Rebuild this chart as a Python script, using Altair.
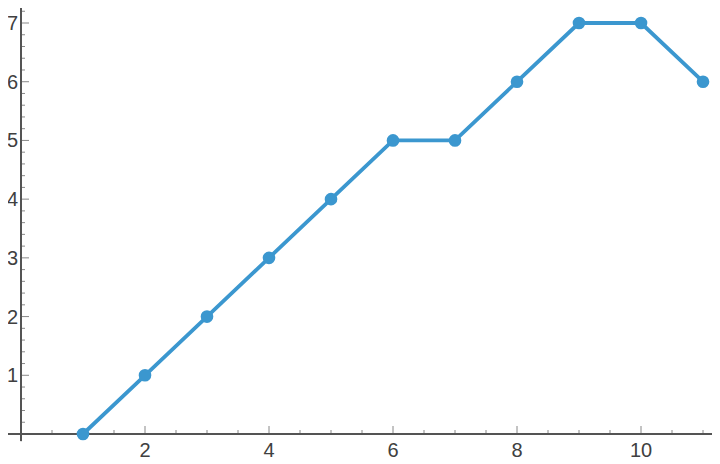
import altair as alt
import pandas as pd

# ---- data ----
x_vals = [1, 2, 3, 4, 5, 6, 7, 8, 9, 10, 11]
y_vals = [0, 1, 2, 3, 4, 5, 5, 6, 7, 7, 6]

x_labels = [2, 4, 6, 8, 10]
y_labels = [1, 2, 3, 4, 5, 6, 7]
x_minor = [0.5 * i for i in range(1, 23) if i % 4 != 0]
y_minor = [round(0.2 * i, 1) for i in range(1, 37) if i % 5 != 0]

# ---- layout ----
W, H = 704, 456
x_dom = [-0.2097, 11.145]
y_dom = [-0.511, 7.2555]

BLUE = "#3b97cf"
AXIS = "#555555"
LABEL = "#404040"
FONT = "Liberation Sans"

xs = alt.Scale(domain=x_dom, nice=False, zero=False)
ys = alt.Scale(domain=y_dom, nice=False, zero=False)

df = pd.DataFrame({"x": x_vals, "y": y_vals})

base = alt.Chart(df).encode(
    x=alt.X("x:Q", scale=xs, axis=None),
    y=alt.Y("y:Q", scale=ys, axis=None),
)

line = base.mark_line(color=BLUE, strokeWidth=3.8)
points = base.mark_circle(color=BLUE, size=160, opacity=1)

# axis lines
x_axis_line = alt.Chart(df).mark_rule(color=AXIS, strokeWidth=1).encode(
    x=alt.XDatum(x_dom[0], scale=xs, axis=None),
    x2=alt.X2Datum(x_dom[1]),
    y=alt.YDatum(0, scale=ys, axis=None),
)
y_axis_line = alt.Chart(df).mark_rule(color=AXIS, strokeWidth=1).encode(
    x=alt.XDatum(0, scale=xs, axis=None),
    y=alt.YDatum(-0.12, scale=ys, axis=None),
    y2=alt.Y2Datum(y_dom[1]),
)

# ticks (pointing inward)
xt_major = alt.Chart(pd.DataFrame({"v": x_labels})).mark_tick(
    orient="vertical", color=AXIS, size=8, thickness=1, yOffset=-4).encode(
    x=alt.X("v:Q", scale=xs, axis=None),
    y=alt.YDatum(0, scale=ys, axis=None),
)
xt_minor = alt.Chart(pd.DataFrame({"v": x_minor})).mark_tick(
    orient="vertical", color=AXIS, size=4, thickness=1, yOffset=-2).encode(
    x=alt.X("v:Q", scale=xs, axis=None),
    y=alt.YDatum(0, scale=ys, axis=None),
)
yt_major = alt.Chart(pd.DataFrame({"v": y_labels})).mark_tick(
    orient="horizontal", color=AXIS, size=8, thickness=1, xOffset=4).encode(
    y=alt.Y("v:Q", scale=ys, axis=None),
    x=alt.XDatum(0, scale=xs, axis=None),
)
yt_minor = alt.Chart(pd.DataFrame({"v": y_minor})).mark_tick(
    orient="horizontal", color=AXIS, size=4, thickness=1, xOffset=2).encode(
    y=alt.Y("v:Q", scale=ys, axis=None),
    x=alt.XDatum(0, scale=xs, axis=None),
)

# tick labels
x_text = alt.Chart(pd.DataFrame({"v": x_labels})).mark_text(
    baseline="alphabetic", align="center", dy=23, font=FONT, fontSize=20, color=LABEL).encode(
    x=alt.X("v:Q", scale=xs, axis=None),
    y=alt.YDatum(0, scale=ys, axis=None),
    text=alt.Text("v:Q"),
)
y_text = alt.Chart(pd.DataFrame({"v": y_labels})).mark_text(
    baseline="alphabetic", align="right", dx=-3, dy=7, font=FONT, fontSize=20, color=LABEL).encode(
    y=alt.Y("v:Q", scale=ys, axis=None),
    x=alt.XDatum(0, scale=xs, axis=None),
    text=alt.Text("v:Q"),
)

chart = alt.layer(
    x_axis_line, y_axis_line, xt_minor, xt_major, yt_minor, yt_major,
    x_text, y_text, line, points
).properties(
    width=W, height=H,
    background="white",
    autosize=alt.AutoSizeParams(type="none"),
    padding={"left": 0, "top": 0, "right": 0, "bottom": 0},
).configure_view(stroke=None)

chart.save("out.html", embed_options={"renderer": "svg", "actions": False})
